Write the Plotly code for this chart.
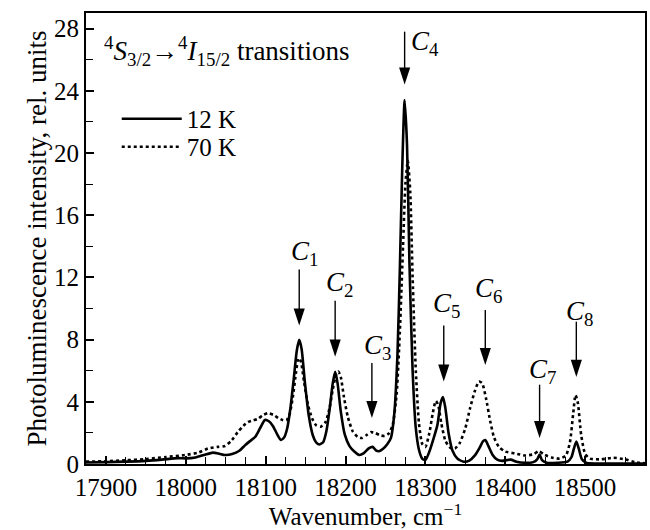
import plotly.graph_objects as go

# 12 K spectrum (solid)
wn_12k = [17875, 17900, 17925, 17950, 17970, 17990, 18000, 18012, 18024, 18034, 18042, 18049,
          18058, 18067, 18074, 18081, 18087, 18093, 18099, 18104, 18109, 18114, 18119, 18123,
          18127, 18131, 18135, 18139, 18142, 18145, 18149, 18154, 18159, 18163, 18167, 18172,
          18176, 18180, 18184, 18187, 18190, 18194, 18199, 18205, 18211, 18217, 18223, 18229,
          18234, 18238, 18242, 18247, 18252, 18257, 18261, 18265, 18268, 18271, 18274, 18277,
          18280, 18284, 18288, 18292, 18296, 18300, 18305, 18310, 18315, 18319, 18322, 18325,
          18329, 18334, 18340, 18348, 18355, 18362, 18368, 18372, 18375, 18379, 18384, 18390,
          18396, 18402, 18407, 18414, 18425, 18435, 18440, 18443, 18446, 18452, 18465, 18478,
          18483, 18486, 18489, 18492, 18496, 18502, 18520, 18575]
int_12k = [0.10, 0.12, 0.15, 0.20, 0.28, 0.38, 0.36, 0.42, 0.60, 0.73, 0.66, 0.58,
           0.64, 0.85, 1.20, 1.50, 1.75, 2.30, 2.83, 2.75, 2.45, 1.95, 1.55, 1.70,
           2.30, 3.60, 5.40, 7.30, 7.98, 7.40, 5.30, 3.10, 1.85, 1.40, 1.25, 1.40,
           2.10, 3.50, 5.20, 5.93, 5.20, 3.40, 1.90, 1.15, 0.80, 0.58, 0.70, 1.00,
           1.10, 0.88, 0.82, 0.98, 1.25, 1.70, 3.20, 7.00, 12.5, 19.0, 23.4, 20.5,
           13.0, 6.00, 2.30, 0.90, 0.35, 0.25, 0.80, 1.60, 2.50, 3.90, 4.30, 3.60,
           2.00, 0.85, 0.35, 0.15, 0.22, 0.55, 1.05, 1.45, 1.54, 1.15, 0.60, 0.28,
           0.20, 0.25, 0.28, 0.15, 0.08, 0.12, 0.30, 0.60, 0.25, 0.08, 0.08, 0.15,
           0.45, 1.00, 1.45, 1.00, 0.30, 0.06, 0.03, 0.03]

# 70 K spectrum (dotted)
wn_70k = [17875, 17900, 17925, 17950, 17975, 17999, 18015, 18028, 18040, 18049, 18057, 18065,
          18072, 18078, 18084, 18090, 18097, 18103, 18110, 18116, 18121, 18126, 18130, 18134,
          18138, 18141, 18144, 18148, 18153, 18158, 18163, 18169, 18175, 18180, 18184, 18188,
          18191, 18194, 18198, 18203, 18209, 18215, 18220, 18226, 18232, 18237, 18243, 18249,
          18254, 18259, 18264, 18268, 18272, 18275, 18278, 18281, 18284, 18288, 18292, 18296,
          18300, 18305, 18309, 18313, 18316, 18320, 18325, 18331, 18337, 18343, 18350, 18356,
          18362, 18367, 18371, 18376, 18381, 18386, 18392, 18400, 18412, 18425, 18435, 18442,
          18449, 18458, 18468, 18476, 18481, 18485, 18488, 18491, 18495, 18500, 18506, 18520,
          18535, 18550, 18562, 18575]
int_70k = [0.15, 0.18, 0.24, 0.32, 0.45, 0.58, 0.72, 1.00, 1.10, 1.16, 1.50, 2.05,
           2.45, 2.70, 2.80, 2.90, 3.15, 3.27, 3.15, 2.95, 2.83, 2.80, 3.20, 4.30,
           5.90, 6.80, 6.60, 5.30, 3.80, 2.95, 2.50, 2.40, 2.70, 3.60, 4.80, 5.70,
           5.95, 5.60, 4.30, 3.00, 2.10, 1.75, 1.67, 1.85, 2.05, 2.00, 1.85, 1.80,
           1.95, 2.50, 4.50, 8.50, 14.0, 18.0, 19.5, 17.5, 12.0, 6.00, 2.60, 1.30,
           1.10, 2.00, 3.20, 4.05, 3.80, 2.60, 1.50, 1.05, 1.00, 1.35, 2.30, 3.60,
           4.70, 5.30, 5.20, 4.20, 2.80, 1.70, 1.10, 0.80, 0.68, 0.55, 0.62, 0.82,
           0.60, 0.42, 0.35, 0.55, 1.40, 3.20, 4.43, 3.90, 1.90, 0.65, 0.35, 0.30,
           0.40, 0.30, 0.12, 0.05]

# Peak annotations C1..C8
peak_names = ["1", "2", "3", "4", "5", "6", "7", "8"]
peak_wn = [18142, 18187, 18233, 18274, 18323, 18375, 18443, 18489]
arrow_top = [12.5, 10.5, 6.5, 27.8, 8.9, 9.9, 5.1, 9.15]
arrow_tip = [8.9, 6.9, 2.95, 24.4, 5.3, 6.36, 1.67, 5.6]
label_wn = [18148, 18192, 18240, 18300, 18327, 18379, 18447, 18493]
label_y = [13.6, 11.6, 7.5, 27.1, 10.2, 11.2, 6.0, 9.7]

x_ticks = [17900, 18000, 18100, 18200, 18300, 18400, 18500]
y_ticks = [0, 4, 8, 12, 16, 20, 24, 28]

FONT = "'Liberation Serif', 'Times New Roman', Times, serif"
TICK_FONT = dict(family=FONT, size=25, color="black")
LEG_FONT = dict(family=FONT, size=25, color="black")

fig = go.Figure()
fig.add_trace(go.Scatter(x=wn_12k, y=int_12k, mode="lines", name="12 K", legend="legend",
                         line=dict(color="black", width=2.6, shape="spline", smoothing=0.6)))
fig.add_trace(go.Scatter(x=wn_70k, y=int_70k, mode="lines", name="70 K", legend="legend2",
                         line=dict(color="black", width=2.6, dash="dot", shape="spline", smoothing=0.6)))

# arrow stems
stem_x, stem_y = [], []
for xw, t, b in zip(peak_wn, arrow_top, arrow_tip):
    stem_x += [xw, xw, None]
    stem_y += [t, b + 0.6, None]
fig.add_trace(go.Scatter(x=stem_x, y=stem_y, mode="lines", showlegend=False,
                         line=dict(color="black", width=1.4), hoverinfo="skip"))
fig.add_trace(go.Scatter(x=peak_wn, y=arrow_tip, mode="markers", showlegend=False,
                         marker=dict(symbol="arrow", angle=180, size=18, color="black",
                                     line=dict(width=0)), hoverinfo="skip"))

for n, xw, yl in zip(peak_names, label_wn, label_y):
    fig.add_annotation(x=xw, y=yl, text=f"<i>C</i><sub>{n}</sub>", showarrow=False,
                       font=dict(family=FONT, size=27, color="black"))

fig.add_annotation(xref="paper", yref="paper", x=0.028, y=0.915, xanchor="left", yanchor="middle",
                   text="<sup>4</sup><i>S</i><sub>3/2</sub>→<sup>4</sup><i>I</i><sub>15/2</sub> transitions",
                   showarrow=False, font=dict(family=FONT, size=27, color="black"))

fig.update_layout(
    width=650, height=530, margin=dict(l=86, r=5, t=13, b=66, autoexpand=False),
    plot_bgcolor="white", paper_bgcolor="white",
    font=dict(family=FONT, color="black", size=25),
    showlegend=True,
    legend=dict(x=0.055, y=0.765, xanchor="left", yanchor="middle", bgcolor="rgba(0,0,0,0)",
                font=LEG_FONT, itemwidth=60),
    legend2=dict(x=0.055, y=0.703, xanchor="left", yanchor="middle", bgcolor="rgba(0,0,0,0)",
                 font=LEG_FONT, itemwidth=60),
    xaxis=dict(range=[17875, 18575], tickmode="array", tickvals=x_ticks,
               ticktext=[str(v) for v in x_ticks], tickfont=TICK_FONT,
               showline=True, linecolor="black", linewidth=2, mirror=True,
               ticks="inside", ticklen=8, tickcolor="black", tickwidth=1.6,
               showgrid=False, zeroline=False,
               minor=dict(dtick=25, tick0=17900, ticks="inside", ticklen=7,
                          tickcolor="black", tickwidth=1.4, showgrid=False),
               title=dict(text="Wavenumber, cm<sup>−1</sup>",
                          font=dict(family=FONT, size=25, color="black"), standoff=6)),
    yaxis=dict(range=[0, 29], tickmode="array", tickvals=y_ticks,
               ticktext=[str(v) for v in y_ticks], tickfont=TICK_FONT,
               showline=True, linecolor="black", linewidth=2, mirror=True,
               ticks="inside", ticklen=8, tickcolor="black", tickwidth=1.6,
               showgrid=False, zeroline=False,
               minor=dict(dtick=2, tick0=0, ticks="inside", ticklen=7,
                          tickcolor="black", tickwidth=1.4, showgrid=False),
               title=dict(text="Photoluminescence intensity, rel. units",
                          font=dict(family=FONT, size=27, color="black"), standoff=0)),
)

fig.write_html("out.html")
